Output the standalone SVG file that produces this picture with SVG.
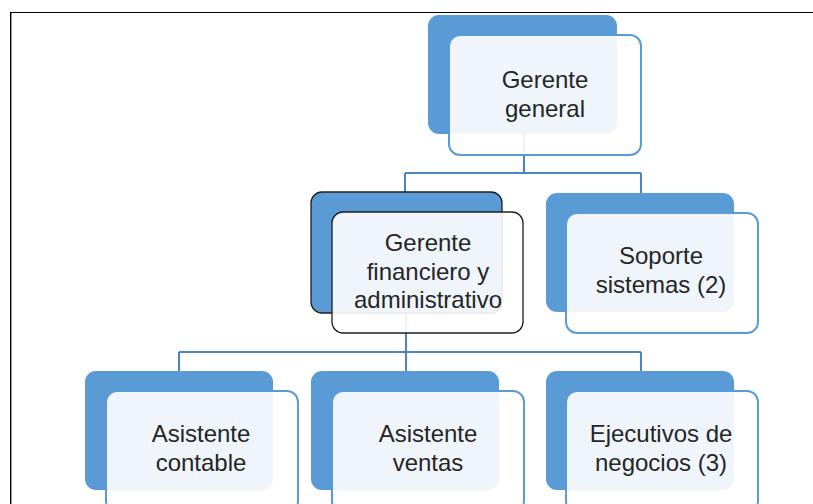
<svg xmlns="http://www.w3.org/2000/svg" width="813" height="504" viewBox="0 0 813 504">
<style>
.back{fill:#5B9BD5;}
.front{fill:#FFFFFF;fill-opacity:0.9;stroke:#5B9BD5;stroke-width:2;}
.backd{fill:#5B9BD5;stroke:#1F1F1F;stroke-width:1.3;}
.frontd{fill:#FFFFFF;fill-opacity:0.9;stroke:#1F1F1F;stroke-width:1.3;}
.conn{fill:none;stroke:#4A85C2;stroke-width:2;}
text{font-family:"Liberation Sans",Arial,sans-serif;font-size:24px;fill:#262626;text-anchor:middle;}
</style>
<rect width="813" height="504" fill="#FFFFFF"/>
<g id="frame">
<line x1="10" y1="12.5" x2="813" y2="12.5" stroke="#000" stroke-width="1.2"/>
<line x1="10.5" y1="12" x2="10.5" y2="504" stroke="#000" stroke-width="1"/>
<line x1="11.5" y1="13" x2="11.5" y2="504" stroke="#9A9A9A" stroke-width="1"/>
</g>
<g id="connectors">
<path class="conn" d="M524,134 V173 M405,173 H641 M405,173 V192 M641,173 V193"/>
<path class="conn" d="M406,313 V352 M179,352 H641 M179,352 V371 M406,352 V371 M641,352 V371"/>
</g>
<g id="gerente-general">
<rect class="back" x="428" y="15" width="189" height="119" rx="11"/>
<rect class="front" x="449" y="35" width="192" height="120" rx="11"/>
<text x="545" y="88">Gerente</text>
<text x="545" y="117">general</text>
</g>
<g id="gerente-financiero">
<rect class="backd" x="311" y="192" width="191" height="121" rx="11"/>
<rect class="frontd" x="332" y="212" width="191" height="121" rx="11"/>
<text x="428" y="251">Gerente</text>
<text x="428" y="280">financiero y</text>
<text x="428" y="308">administrativo</text>
</g>
<g id="soporte-sistemas">
<rect class="back" x="546" y="193" width="188" height="119" rx="11"/>
<rect class="front" x="566" y="213" width="192" height="120" rx="11"/>
<text x="661" y="264">Soporte</text>
<text x="661" y="293">sistemas (2)</text>
</g>
<g id="asistente-contable">
<rect class="back" x="85" y="371" width="188" height="119" rx="11"/>
<rect class="front" x="106" y="391" width="192" height="121" rx="11"/>
<text x="201" y="442">Asistente</text>
<text x="201" y="471">contable</text>
</g>
<g id="asistente-ventas">
<rect class="back" x="311" y="371" width="188" height="119" rx="11"/>
<rect class="front" x="332" y="391" width="192" height="121" rx="11"/>
<text x="428" y="442">Asistente</text>
<text x="428" y="471">ventas</text>
</g>
<g id="ejecutivos-negocios">
<rect class="back" x="546" y="371" width="188" height="119" rx="11"/>
<rect class="front" x="566" y="391" width="192" height="121" rx="11"/>
<text x="661" y="442">Ejecutivos de</text>
<text x="661" y="471">negocios (3)</text>
</g>
</svg>
